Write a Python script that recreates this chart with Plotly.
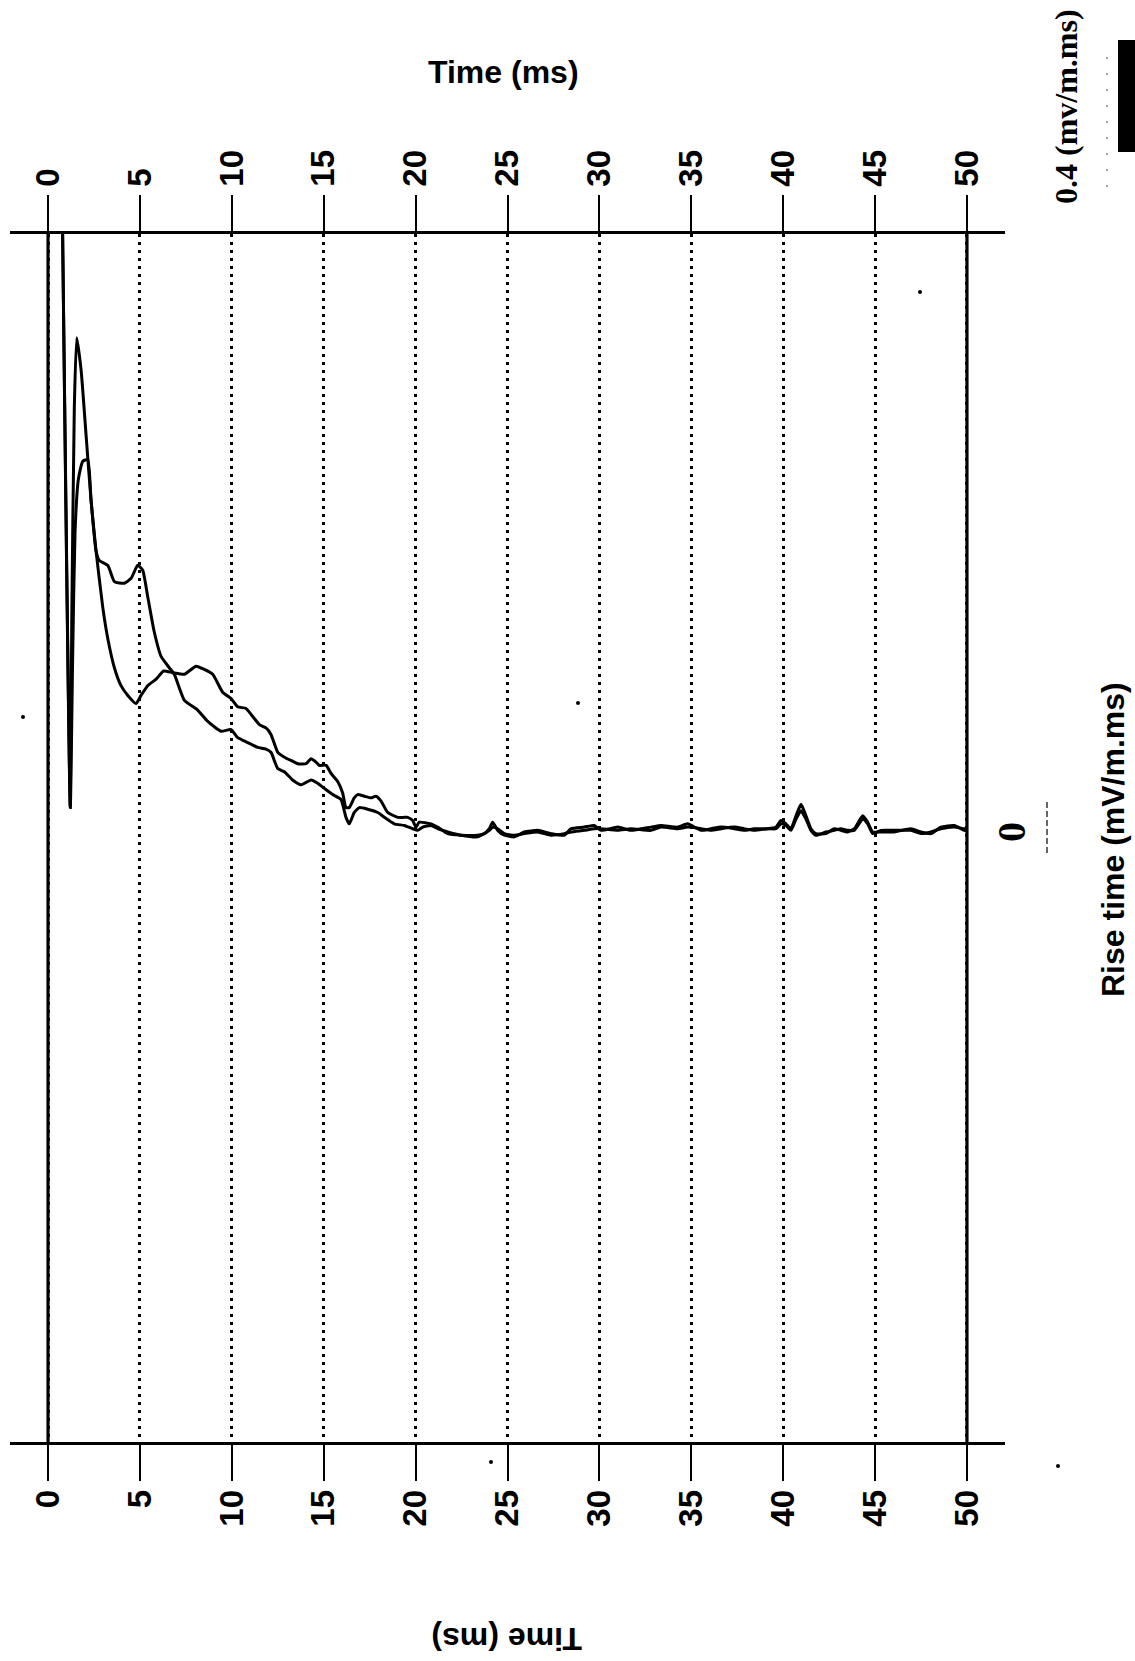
import plotly.graph_objects as go

# ---- data -------------------------------------------------------------
# Time axis ticks (ms), shown on both the top and bottom edges
time_ticks = [0, 5, 10, 15, 20, 25, 30, 35, 40, 45, 50]

# Rise-time trace A (sharp early peak), time in ms, value in mV/m.ms
t_a = [0.74, 1.21, 1.29, 1.43, 1.56, 1.80, 2.07, 2.34, 2.61, 2.98, 3.25, 3.61,
       3.97, 4.34, 4.79, 5.06, 5.42, 5.88, 6.29, 6.78, 7.42, 8.05, 8.50, 8.96,
       9.50, 9.96, 10.32, 10.77, 11.14, 11.50, 11.86, 12.13, 12.50, 12.86, 13.22,
       13.59, 14.04, 14.31, 14.58, 14.76, 15.13, 15.40, 15.76, 16.03, 16.21,
       16.39, 16.66, 16.85, 17.21, 17.57, 17.85, 18.12, 18.48, 19.03, 19.39,
       19.57, 19.84, 20.02, 20.20, 20.84, 21.20, 21.75, 22.47, 23.38, 23.74,
       24.01, 24.19, 24.47, 24.83, 25.37, 25.91, 26.64, 27.37, 28.09, 28.46,
       29.18, 29.72, 30.09, 31.00, 31.72, 32.81, 33.35, 34.26, 34.80, 35.53,
       36.07, 36.62, 37.34, 37.88, 38.43, 39.16, 39.61, 39.88, 40.15, 40.42,
       40.70, 40.97, 41.24, 41.51, 41.78, 42.33, 42.78, 43.14, 43.51, 43.87,
       44.33, 44.60, 44.87, 45.32, 46.04, 46.95, 47.50, 48.04, 48.58, 49.31,
       49.85, 50.00]
v_a = [0.419, 0.015, 0.130, 0.261, 0.304, 0.284, 0.244, 0.204, 0.173, 0.138,
       0.119, 0.101, 0.090, 0.084, 0.079, 0.084, 0.090, 0.094, 0.099, 0.098,
       0.097, 0.102, 0.100, 0.097, 0.086, 0.082, 0.077, 0.076, 0.071, 0.066,
       0.064, 0.060, 0.049, 0.046, 0.044, 0.042, 0.042, 0.045, 0.043, 0.041,
       0.041, 0.036, 0.031, 0.024, 0.015, 0.015, 0.021, 0.023, 0.022, 0.021,
       0.022, 0.019, 0.012, 0.009, 0.009, 0.009, 0.007, 0.003, 0.006, 0.005,
       0.003, -0.001, -0.002, -0.002, -0.001, 0.002, 0.006, 0.001, -0.002,
       -0.003, 0.000, 0.001, -0.001, -0.002, 0.002, 0.003, 0.004, 0.001, 0.003,
       0.001, 0.003, 0.004, 0.003, 0.005, 0.001, 0.002, 0.003, 0.002, 0.001,
       0.002, 0.002, 0.003, 0.007, 0.005, 0.002, 0.010, 0.017, 0.010, 0.002,
       -0.001, -0.001, 0.002, 0.001, 0.000, 0.002, 0.010, 0.006, 0.000, 0.000,
       0.000, 0.002, 0.000, -0.001, 0.003, 0.004, 0.001, 0.001]

# Rise-time trace B (lower, broader early peak with a shoulder)
t_b = [0.74, 1.21, 1.34, 1.47, 1.65, 1.89, 2.16, 2.34, 2.61, 2.79, 3.25, 3.61,
       4.15, 4.52, 4.88, 5.15, 5.42, 5.78, 6.15, 6.60, 6.87, 7.42, 8.14, 8.69,
       9.41, 9.96, 10.32, 10.68, 11.04, 11.41, 11.86, 12.13, 12.50, 12.86,
       13.31, 13.77, 14.31, 14.67, 15.13, 15.49, 15.94, 16.21, 16.39, 16.66,
       16.94, 17.39, 17.94, 18.30, 18.84, 19.39, 19.84, 20.11, 20.39, 20.84,
       21.20, 21.75, 22.47, 23.38, 23.74, 24.01, 24.19, 24.47, 24.83, 25.37,
       25.91, 26.64, 27.37, 28.09, 28.46, 29.18, 29.72, 30.09, 31.00, 31.72,
       32.81, 33.35, 34.26, 34.80, 35.53, 36.07, 36.62, 37.34, 37.88, 38.43,
       39.16, 39.61, 39.88, 40.15, 40.42, 40.70, 40.97, 41.24, 41.51, 41.78,
       42.33, 42.78, 43.14, 43.51, 43.87, 44.33, 44.60, 44.87, 45.32, 46.04,
       46.95, 47.50, 48.04, 48.58, 49.31, 49.85, 50.00]
v_b = [0.419, 0.015, 0.108, 0.185, 0.217, 0.228, 0.229, 0.204, 0.173, 0.167,
       0.164, 0.154, 0.153, 0.156, 0.164, 0.161, 0.145, 0.123, 0.108, 0.101,
       0.097, 0.081, 0.075, 0.068, 0.062, 0.063, 0.058, 0.056, 0.054, 0.052,
       0.051, 0.049, 0.039, 0.037, 0.032, 0.029, 0.032, 0.030, 0.026, 0.023,
       0.020, 0.009, 0.005, 0.012, 0.015, 0.014, 0.012, 0.009, 0.005, 0.004,
       0.002, 0.001, 0.003, 0.004, 0.002, 0.000, -0.002, -0.003, -0.001, 0.001,
       0.003, 0.002, -0.001, -0.002, -0.001, 0.000, -0.002, -0.001, 0.000,
       0.001, 0.002, 0.002, 0.001, 0.002, 0.001, 0.003, 0.002, 0.003, 0.002,
       0.001, 0.002, 0.003, 0.002, 0.001, 0.002, 0.002, 0.005, 0.004, 0.001,
       0.008, 0.013, 0.008, 0.001, -0.002, 0.000, 0.001, 0.002, 0.001, 0.001,
       0.008, 0.005, -0.001, 0.001, 0.001, 0.001, -0.001, 0.000, 0.002, 0.003,
       0.002, 0.002]

# ---- styling ------------------------------------------------------------
SANS = "Liberation Sans, Arial, sans-serif"
SERIF = "Liberation Serif, Times New Roman, serif"
W, H = 1135, 1661
M_L, M_R, M_T, M_B = 10, 130, 234, 219
X_RANGE = [-2.07, 52.07]
Y_RANGE = [-0.3752, 0.3678]

fig = go.Figure()
for tx, vy in ((t_a, v_a), (t_b, v_b)):
    fig.add_trace(go.Scatter(x=tx, y=vy, mode="lines",
                             line=dict(color="black", width=3,
                                       shape="spline", smoothing=0.5),
                             hoverinfo="skip", showlegend=False))
# carrier for the top time axis
fig.add_trace(go.Scatter(x=[time_ticks[0], time_ticks[-1]], y=[0, 0],
                         xaxis="x2", mode="lines", opacity=0,
                         hoverinfo="skip", showlegend=False))

time_axis = dict(
    range=X_RANGE, tickmode="array", tickvals=time_ticks,
    ticktext=[str(v) for v in time_ticks],
    ticks="outside", ticklen=36, tickwidth=2, tickcolor="black",
    showline=True, linewidth=2.5, linecolor="black",
    zeroline=False, tickangle=-90,
    tickfont=dict(family=SANS, size=33, color="black", weight="bold"),
)

fig.update_layout(
    width=W, height=H, autosize=False,
    margin=dict(l=M_L, r=M_R, t=M_T, b=M_B, pad=0),
    paper_bgcolor="white", plot_bgcolor="white",
    xaxis=dict(**time_axis, side="bottom", ticklabelstandoff=-4,
               showgrid=True, gridcolor="black",
               gridwidth=2.8, griddash="2.8px,5.2px"),
    xaxis2=dict(**time_axis, side="top", overlaying="x", showgrid=False,
                ticklabelstandoff=2),
    yaxis=dict(range=Y_RANGE, visible=False, showgrid=False, zeroline=False),
    hovermode=False,
)

# solid boundary lines at 0 ms and 50 ms
for tv in (time_ticks[0], time_ticks[-1]):
    fig.add_shape(type="line", xref="x", yref="paper", x0=tv, x1=tv, y0=0, y1=1,
                  line=dict(color="black", width=3.2), layer="above")

plot_w = W - M_L - M_R
plot_h = H - M_T - M_B


def px_x(p):
    return (p - M_L) / plot_w


def px_y(p):
    return (H - M_B - p) / plot_h


# scale bar and its guide marks, top right
fig.add_shape(type="rect", xref="paper", yref="paper",
              x0=px_x(1118), x1=px_x(1136), y0=px_y(152), y1=px_y(40),
              fillcolor="black", line=dict(width=0))
fig.add_shape(type="line", xref="paper", yref="paper",
              x0=px_x(1107), x1=px_x(1107), y0=px_y(187), y1=px_y(53),
              line=dict(color="#444", width=1, dash="2px,14px"))
# short dashed zero marker at the right
fig.add_shape(type="line", xref="paper", yref="paper",
              x0=px_x(1047), x1=px_x(1047), y0=px_y(853), y1=px_y(802),
              line=dict(color="black", width=1.2, dash="6px,3px"))

# small specks
for sx, sy in ((920, 292), (23, 717), (578, 703), (491, 1462), (1058, 1466)):
    fig.add_shape(type="circle", xref="paper", yref="paper",
                  x0=px_x(sx - 2), x1=px_x(sx + 2), y0=px_y(sy + 2), y1=px_y(sy - 2),
                  fillcolor="black", line=dict(width=0))

ann = []
ann.append(dict(text="Time (ms)", x=px_x(503), y=px_y(72), textangle=0,
                font=dict(family=SANS, size=32, color="black", weight="bold")))
ann.append(dict(text="Time (ms)", x=px_x(507), y=px_y(1639), textangle=180,
                font=dict(family=SANS, size=32, color="black", weight="bold")))
ann.append(dict(text="Rise time (mV/m.ms)", x=px_x(1113), y=px_y(840), textangle=-90,
                font=dict(family=SANS, size=32, color="black", weight="bold")))
ann.append(dict(text="0.4 (mv/m.ms)", x=px_x(1066), y=px_y(107), textangle=-90,
                font=dict(family=SERIF, size=32, color="black", weight="bold")))
for a in ann:
    fig.add_annotation(xref="paper", yref="paper", showarrow=False,
                       xanchor="center", yanchor="middle", **a)
fig.add_annotation(text="0", xref="paper", yref="y", x=px_x(1012), y=0,
                   showarrow=False, xanchor="center", yanchor="middle",
                   textangle=-90,
                   font=dict(family=SERIF, size=40, color="black", weight="bold"))

fig.write_html("out.html", config={"displayModeBar": False})
